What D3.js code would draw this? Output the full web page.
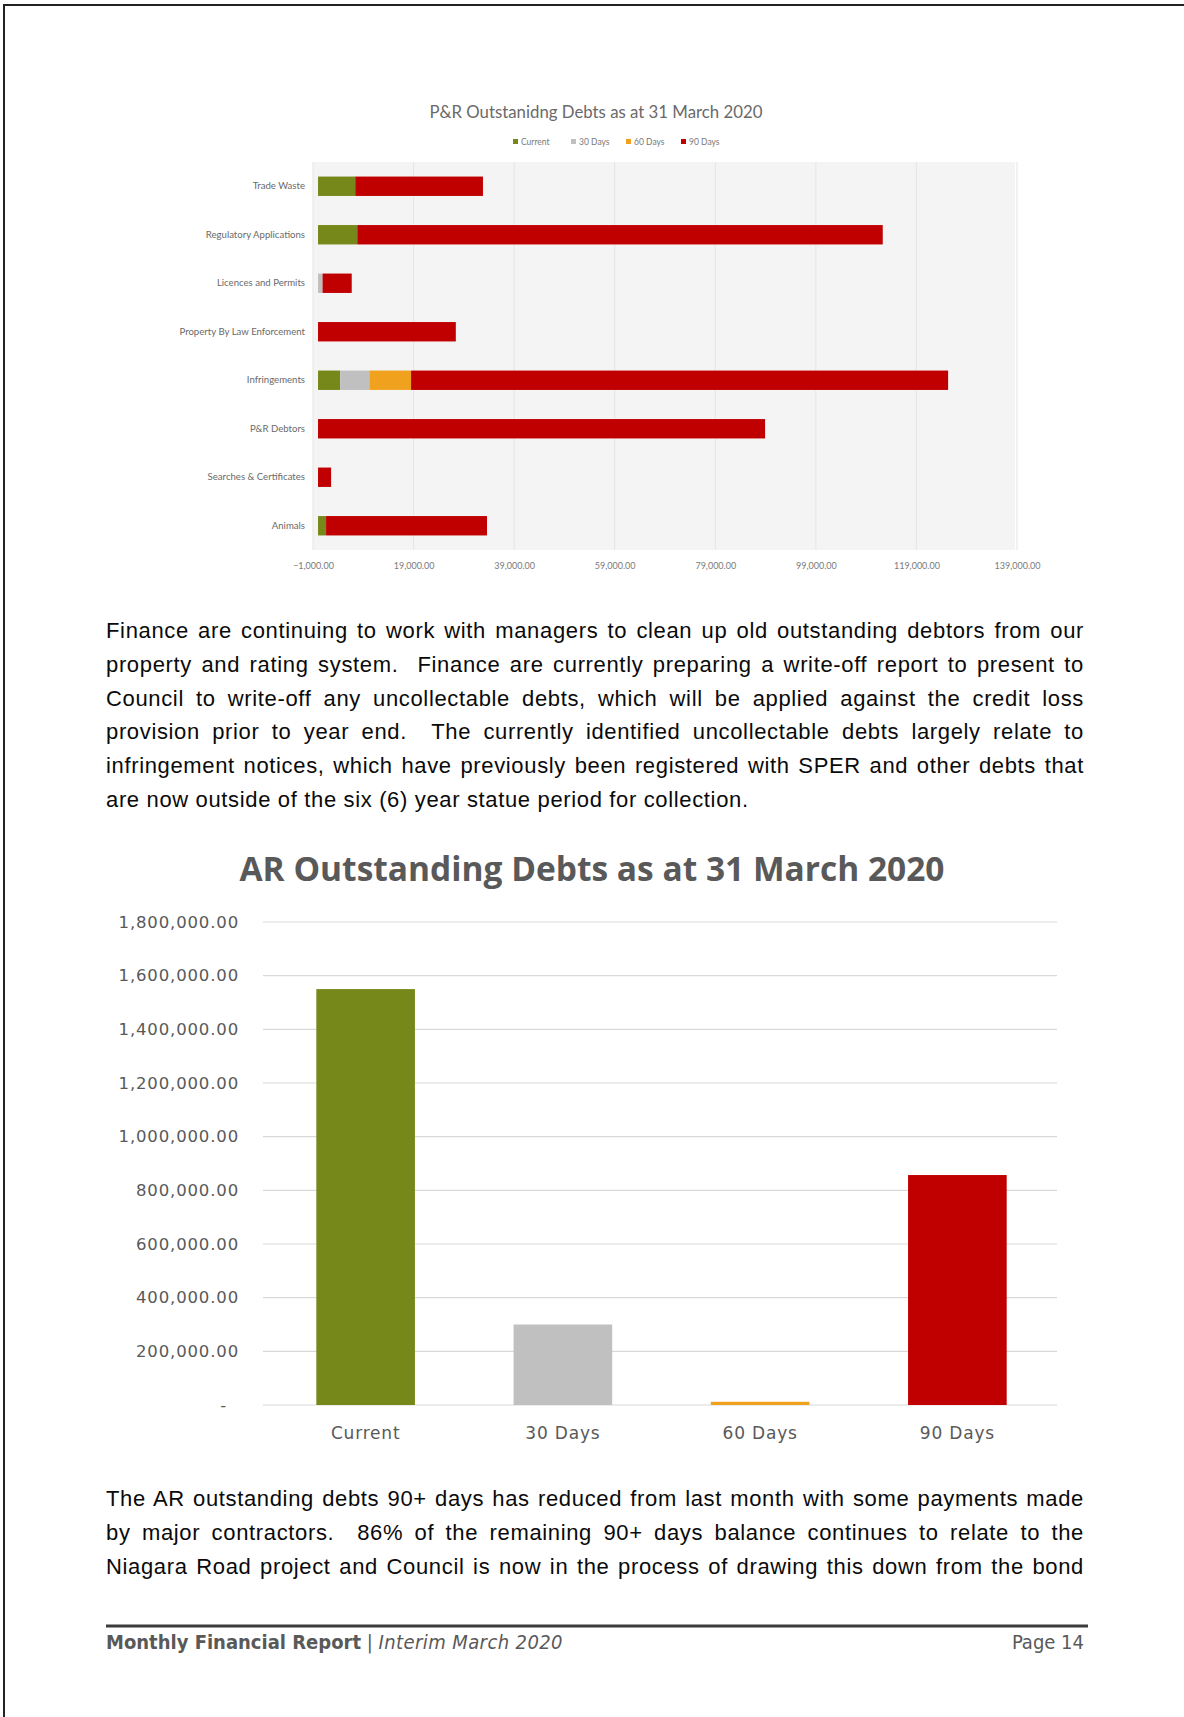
<!DOCTYPE html>
<html>
<head>
<meta charset="utf-8">
<script src="https://cdn.jsdelivr.net/npm/d3@7"></script>
<style>
  body { margin: 0; background: #fff; }
  #page { position: relative; width: 1184px; height: 1717px; overflow: hidden; }
  svg { position: absolute; left: 0; top: 0; }
  .para { position: absolute; left: 106px; width: 978px; font-family: 'Liberation Sans', Arial, sans-serif; font-size: 22px; letter-spacing: 0.65px; line-height: 33.8px; color: #0a0a0a; }
  .para div { text-align: justify; text-align-last: justify; white-space: pre-wrap; }
  .para div.last { text-align-last: left; }
  .footer { position: absolute; top: 1630px; font-family: 'DejaVu Sans Condensed', 'DejaVu Sans', sans-serif; font-size: 20px; color: #595959; }
</style>
</head>
<body>
<div id="page">
  <svg id="chart" width="1184" height="1717"></svg>
  <div class="para" id="para1" style="top:614px"></div>
  <div class="para" id="para2" style="top:1482px"></div>
  <div class="footer" style="left:106px"><b>Monthly Financial Report</b> | <i style="letter-spacing:0.4px">Interim March 2020</i></div>
  <div class="footer" style="right:100px">Page 14</div>
</div>
<script>
// P&R chart data
let pnrCategories = ['Trade Waste', 'Regulatory Applications', 'Licences and Permits', 'Property By Law Enforcement', 'Infringements', 'P&R Debtors', 'Searches & Certificates', 'Animals']
let pnrKeys = ['Current', '30 Days', '60 Days', '90 Days']
let pnrCurrent = [7400, 7800, 0, 0, 4400, 0, 0, 1600]
let pnr30Days = [0, 0, 900, 0, 5800, 0, 0, 0]
let pnr60Days = [0, 0, 0, 0, 8300, 0, 0, 0]
let pnr90Days = [25400, 104500, 5800, 27400, 106800, 88900, 2600, 32000]
let pnrTicks = [-1000, 19000, 39000, 59000, 79000, 99000, 119000, 139000]

// AR chart data
let arCategories = ['Current', '30 Days', '60 Days', '90 Days']
let arValues = [1550000, 300000, 12000, 857000]
let arTicks = [0, 200000, 400000, 600000, 800000, 1000000, 1200000, 1400000, 1600000, 1800000]

let colors = ['#77881a', '#c0c0c0', '#f0a21e', '#c00000']

let para1 = [
  'Finance are continuing to work with managers to clean up old outstanding debtors from our',
  'property and rating system.  Finance are currently preparing a write-off report to present to',
  'Council to write-off any uncollectable debts, which will be applied against the credit loss',
  'provision prior to year end.  The currently identified uncollectable debts largely relate to',
  'infringement notices, which have previously been registered with SPER and other debts that',
  'are now outside of the six (6) year statue period for collection.'
]
let para2 = [
  'The AR outstanding debts 90+ days has reduced from last month with some payments made',
  'by major contractors.  86% of the remaining 90+ days balance continues to relate to the',
  'Niagara Road project and Council is now in the process of drawing this down from the bond'
]

let svg = d3.select('#chart')

// page border
svg.append('line').attr('x1', 3).attr('x2', 1184).attr('y1', 5).attr('y2', 5)
  .attr('stroke', '#222').attr('stroke-width', 2)
svg.append('line').attr('x1', 4).attr('x2', 4).attr('y1', 5).attr('y2', 1717)
  .attr('stroke', '#222').attr('stroke-width', 2)

// ---------- top chart ----------
let top1 = 162, bottom1 = 550
let x1 = d3.scaleLinear().domain([-1000, 139000]).range([313, 1017])
let y1 = d3.scaleBand().domain(pnrCategories).range([top1, bottom1]).paddingInner(0.6).paddingOuter(0.3)

let g1 = svg.append('g')

g1.append('rect')
  .attr('x', 313).attr('y', top1)
  .attr('width', 1015 - 313).attr('height', bottom1 - top1)
  .attr('fill', '#f4f4f4')

g1.selectAll('.vgrid')
  .data(pnrTicks)
  .enter().append('line')
  .attr('class', 'vgrid')
  .attr('x1', d => x1(d)).attr('x2', d => x1(d))
  .attr('y1', top1).attr('y2', bottom1)
  .attr('stroke', '#e5e5e5')

g1.append('text')
  .attr('x', 596).attr('y', 118)
  .attr('text-anchor', 'middle')
  .attr('font-family', 'Lato, sans-serif')
  .attr('font-size', 16.8)
  .attr('fill', '#6a6a6a')
  .text('P&R Outstanidng Debts as at 31 March 2020')

// legend
let legend = g1.append('g').attr('transform', 'translate(513,142)')
let legendX = [0, 58, 113, 168]
pnrKeys.forEach((k, i) => {
  legend.append('rect').attr('x', legendX[i]).attr('y', -3).attr('width', 5).attr('height', 5).attr('fill', colors[i])
  legend.append('text').attr('x', legendX[i] + 8).attr('y', 2.5)
    .attr('font-family', 'Lato, sans-serif').attr('font-size', 8.5).attr('fill', '#7a7a7a')
    .text(k)
})

let rows = pnrCategories.map((c, i) => ({
  category: c,
  'Current': pnrCurrent[i],
  '30 Days': pnr30Days[i],
  '60 Days': pnr60Days[i],
  '90 Days': pnr90Days[i]
}))
let stacked = d3.stack().keys(pnrKeys)(rows)

g1.selectAll('.series')
  .data(stacked)
  .enter().append('g')
  .attr('class', 'series')
  .attr('fill', (d, i) => colors[i])
  .selectAll('rect')
  .data(d => d)
  .enter().append('rect')
  .attr('x', d => x1(d[0]))
  .attr('y', d => y1(d.data.category))
  .attr('width', d => x1(d[1]) - x1(d[0]))
  .attr('height', y1.bandwidth())

let xAxis1 = d3.axisBottom(x1).tickValues(pnrTicks).tickFormat(d3.format(',.2f')).tickSize(0).tickPadding(13)
g1.append('g')
  .attr('transform', 'translate(0,' + bottom1 + ')')
  .call(xAxis1)
  .call(g => g.select('.domain').remove())
  .selectAll('text')
  .attr('font-family', 'Lato, sans-serif').attr('font-size', 9).attr('fill', '#7a7a7a')

let yAxis1 = d3.axisLeft(y1).tickSize(0).tickPadding(8)
g1.append('g')
  .attr('transform', 'translate(313,0)')
  .call(yAxis1)
  .call(g => g.select('.domain').remove())
  .selectAll('text')
  .attr('font-family', 'Lato, sans-serif').attr('font-size', 9.6).attr('fill', '#6a6a6a')

// ---------- bottom chart ----------
let x2 = d3.scaleBand().domain(arCategories).range([267, 1056]).paddingInner(0.5).paddingOuter(0.25)
let y2 = d3.scaleLinear().domain([0, 1800000]).range([1405, 922])

let g2 = svg.append('g')

g2.append('text')
  .attr('x', 592).attr('y', 881)
  .attr('text-anchor', 'middle')
  .attr('font-family', 'Open Sans, sans-serif')
  .attr('font-weight', 'bold')
  .attr('font-size', 33.5)
  .attr('fill', '#595959')
  .text('AR Outstanding Debts as at 31 March 2020')

g2.selectAll('.hgrid')
  .data(arTicks)
  .enter().append('line')
  .attr('class', 'hgrid')
  .attr('x1', 263).attr('x2', 1057)
  .attr('y1', d => y2(d)).attr('y2', d => y2(d))
  .attr('stroke', '#d9d9d9')
  .attr('stroke-width', 1.2)

g2.selectAll('.bar')
  .data(arValues)
  .enter().append('rect')
  .attr('class', 'bar')
  .attr('x', (d, i) => x2(arCategories[i]))
  .attr('y', d => y2(d))
  .attr('width', x2.bandwidth())
  .attr('height', d => y2(0) - y2(d))
  .attr('fill', (d, i) => colors[i])

let yAxis2 = d3.axisLeft(y2).tickValues(arTicks)
  .tickFormat(d => d === 0 ? '-' : d3.format(',.2f')(d))
  .tickSize(0).tickPadding(0)
g2.append('g')
  .attr('transform', 'translate(239,0)')
  .call(yAxis2)
  .call(g => g.select('.domain').remove())
  .selectAll('text')
  .attr('font-family', 'DejaVu Sans, sans-serif').attr('font-size', 16.5).attr('letter-spacing', 0.85)
  .attr('fill', '#595959')
  .attr('dx', d => d === 0 ? -12 : 0)

let xAxis2 = d3.axisBottom(x2).tickSize(0).tickPadding(22)
g2.append('g')
  .attr('transform', 'translate(0,1405)')
  .call(xAxis2)
  .call(g => g.select('.domain').remove())
  .selectAll('text')
  .attr('font-family', 'DejaVu Sans, sans-serif').attr('font-size', 17).attr('letter-spacing', 0.8)
  .attr('fill', '#595959')

// footer rule
svg.append('line').attr('x1', 106).attr('x2', 1088).attr('y1', 1626).attr('y2', 1626)
  .attr('stroke', '#3c3c3c').attr('stroke-width', 3)

// paragraphs
function fillPara(id, lines, lastIsShort) {
  d3.select(id).selectAll('div')
    .data(lines)
    .enter().append('div')
    .attr('class', (d, i) => (lastIsShort && i === lines.length - 1) ? 'last' : null)
    .text(d => d)
}
fillPara('#para1', para1, true)
fillPara('#para2', para2, false)
</script>
</body>
</html>
